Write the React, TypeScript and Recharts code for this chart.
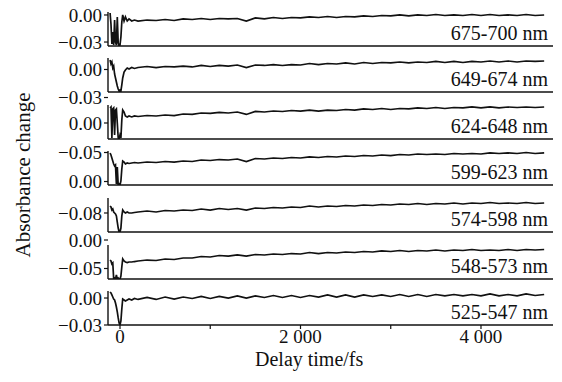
import React from 'react';
import { LineChart, Line, XAxis, YAxis } from 'recharts';

// delay times (fs), shared by all traces
const delayTimes = [
  -110, -100, -90, -80, -70, -60, -50, -40, -30, -20, -10, 0, 10, 20, 30, 45, 60, 80, 100, 130, 160,
  200, 300, 400, 500, 600, 700, 800, 900, 1000, 1100, 1200, 1300, 1400, 1500, 1600, 1700, 1800,
  1900, 2000, 2100, 2200, 2300, 2400, 2500, 2600, 2700, 2800, 2900, 3000, 3100, 3200, 3300, 3400,
  3500, 3600, 3700, 3800, 3900, 4000, 4100, 4200, 4300, 4400, 4500, 4600, 4700,
];

const trace675 = [
  0.0022, -0.01, -0.0322, -0.0189, -0.0333, -0.0056, -0.03, -0.0333, -0.0022, -0.0311, -0.0344,
  -0.0333, -0.0244, -0.0078, 0.0, -0.0067, -0.0022, -0.0067, -0.0044, -0.0067, -0.0056,
  -0.0067, -0.0056, -0.0061, -0.005, -0.0061, -0.0044, -0.005, -0.0039, -0.005, -0.0039, -0.0044,
  -0.0039, -0.0067, -0.0033, -0.0044, -0.0028, -0.0039, -0.0028, -0.0033, -0.0022, -0.0028,
  -0.0017, -0.0028, -0.0017, -0.0022, -0.0011, -0.0017, -0.0006, -0.0011, 0.0, -0.0011, 0.0,
  -0.0006, 0.0005, -0.0006, 0.0, -0.0006, 0.0005, -0.0006, 0.0005, -0.0006, 0.0, -0.0006, 0.0005,
  -0.0006, 0.0,
];
const trace649 = [
  0.0102, 0.0059, 0.008, 0.0016, 0.0037, -0.0048, -0.0091, -0.0134, -0.0177, -0.0209, -0.023,
  -0.0219, -0.023, -0.0166, -0.0091, -0.0027, -0.0005, 0.0016, 0.0005, 0.0021, 0.0011,
  0.0021, 0.0032, 0.0021, 0.0032, 0.0027, 0.0037, 0.0027, 0.0043, 0.0032, 0.0043, 0.0037, 0.0048,
  0.0021, 0.0048, 0.0043, 0.0053, 0.0043, 0.0053, 0.0048, 0.0064, 0.0053, 0.0064, 0.0059, 0.007,
  0.0059, 0.0075, 0.0064, 0.0075, 0.007, 0.008, 0.007, 0.008, 0.0075, 0.0086, 0.0075, 0.0086,
  0.0075, 0.0086, 0.008, 0.0091, 0.008, 0.0091, 0.008, 0.0091, 0.0086, 0.0091,
];
const trace624 = [
  0.0167, 0.0178, -0.0166, 0.0156, 0.0167, -0.0133, 0.0144, 0.0156, 0.0, -0.0166, -0.0177,
  -0.0133, -0.0166, 0.0033, 0.0144, 0.0122, 0.0078, 0.0067, 0.0078, 0.0067, 0.0078,
  0.0072, 0.0083, 0.0078, 0.0089, 0.0083, 0.01, 0.0095, 0.0111, 0.0106, 0.0117, 0.0111, 0.0122,
  0.0095, 0.0128, 0.0122, 0.0133, 0.0128, 0.0139, 0.0133, 0.0144, 0.0133, 0.0144, 0.0139, 0.015,
  0.0144, 0.0156, 0.015, 0.0161, 0.015, 0.0161, 0.0156, 0.0167, 0.0161, 0.0172, 0.0161, 0.0172,
  0.0167, 0.0178, 0.0167, 0.0178, 0.0167, 0.0178, 0.0172, 0.0178, 0.0172, 0.0178,
];
const trace599 = [
  -0.0492, -0.0457, -0.0405, -0.0354, -0.0302, -0.0267, -0.0285, 0.0043, -0.025, 0.006, 0.0043,
  0.006, -0.0009, -0.0216, -0.0354, -0.0336, -0.0302, -0.0319, -0.0311, -0.0319, -0.0328,
  -0.0319, -0.0336, -0.0328, -0.0345, -0.0336, -0.0354, -0.0345, -0.0371, -0.0362, -0.0379,
  -0.0371, -0.0388, -0.0345, -0.0397, -0.0388, -0.0405, -0.0397, -0.0414, -0.0405, -0.0423,
  -0.0414, -0.0431, -0.0423, -0.044, -0.0431, -0.0448, -0.044, -0.0457, -0.0448, -0.0466,
  -0.0457, -0.0474, -0.0466, -0.0474, -0.0466, -0.0483, -0.0474, -0.0483, -0.0474, -0.0492,
  -0.0483, -0.0492, -0.0483, -0.05, -0.0483, -0.0492,
];
const trace574 = [
  -0.1007, -0.0977, -0.0888, -0.0918, -0.0829, -0.08, -0.077, -0.0711, -0.0533, -0.0355, -0.0237,
  -0.0237, -0.0355, -0.0711, -0.0888, -0.0829, -0.08, -0.0829, -0.08, -0.08, -0.0814,
  -0.0829, -0.0859, -0.0829, -0.0874, -0.0859, -0.0888, -0.0874, -0.0918, -0.0888, -0.0933,
  -0.0903, -0.0933, -0.0888, -0.0948, -0.0933, -0.0963, -0.0948, -0.0977, -0.0963, -0.1007,
  -0.0977, -0.1007, -0.0992, -0.1022, -0.1007, -0.1037, -0.1022, -0.1051, -0.1037, -0.1066,
  -0.1051, -0.1081, -0.1051, -0.1081, -0.1066, -0.1096, -0.1066, -0.1096, -0.1081, -0.1111,
  -0.1081, -0.1096, -0.1081, -0.1111, -0.1081, -0.1096,
];
const trace548 = [
  -0.0646, -0.0629, -0.0577, -0.0595, -0.0319, -0.0336, -0.0319, -0.0388, -0.0319, -0.0336,
  -0.0319, -0.0319, -0.0371, -0.0526, -0.0664, -0.0629, -0.0612, -0.0603, -0.0612, -0.0612, -0.062,
  -0.0629, -0.0646, -0.0638, -0.0664, -0.0655, -0.0681, -0.0681, -0.0707, -0.0698, -0.0724,
  -0.0715, -0.0733, -0.0715, -0.0741, -0.0733, -0.075, -0.0741, -0.0758, -0.075, -0.0776,
  -0.0758, -0.0776, -0.0767, -0.0784, -0.0776, -0.0793, -0.0784, -0.0802, -0.0793, -0.081,
  -0.0793, -0.081, -0.0802, -0.0819, -0.0802, -0.0819, -0.081, -0.0827, -0.081, -0.0819,
  -0.081, -0.0827, -0.081, -0.0827, -0.0819, -0.0827,
];
const trace525 = [
  0.0067, 0.0056, 0.0034, 0.0011, -0.0011, -0.0022, -0.0055, -0.01, -0.0155, -0.0222, -0.0277,
  -0.0299, -0.0255, -0.0122, -0.0011, -0.0022, -0.0033, -0.0022, -0.0011, -0.0022, -0.0005,
  -0.0016, 0.0006, -0.0016, 0.0011, -0.0011, 0.0011, -0.0005, 0.0017, -0.0005, 0.0017, 0.0,
  0.0023, 0.0, 0.0023, 0.0006, 0.0028, 0.0006, 0.0028, 0.0006, 0.0028, 0.0011, 0.0034, 0.0011,
  0.0034, 0.0011, 0.0034, 0.0017, 0.0034, 0.0017, 0.0039, 0.0017, 0.0039, 0.0017, 0.0039,
  0.0023, 0.0039, 0.0023, 0.0039, 0.0023, 0.0045, 0.0023, 0.0039, 0.0023, 0.0045, 0.0028, 0.0039,
];

const bandLabels = ['675-700 nm', '649-674 nm', '624-648 nm', '599-623 nm', '574-598 nm', '548-573 nm', '525-547 nm'];
const bandTraces = [trace675, trace649, trace624, trace599, trace574, trace548, trace525];

// y ticks printed on each panel (as in the original figure)
const bandTicks = [[0, -0.03], [0, -0.03], [0], [-0.05, 0], [-0.08, 0], [-0.05], [0, -0.03]];

const xTicks = [0, 1000, 2000, 3000, 4000];
const xTickLabels = ['0', '', '2 000', '', '4 000'];

// axis settings per panel
const yDomains: [number, number][] = [
  [-0.0344, 0.0033],
  [-0.0241, 0.0123],
  [-0.0178, 0.02],
  [-0.0526, 0.006],
  [-0.1244, -0.0237],
  [-0.0905, -0.0319],
  [-0.03, 0.0078],
];
const yReversed = [false, false, false, true, true, true, false];

const PLOT_TOP = [12, 58, 105, 151, 198, 245, 291];
const PLOT_H = 34;
const M_TOP = 14;
const X_DOMAIN: [number, number] = [-133, 4798];
const FONT = '"Liberation Serif", "Times New Roman", serif';

const fmtY = (v: number) => (v === 0 ? '0.00' : '\u2212' + Math.abs(v).toFixed(2));
const fmtX = (v: number) => xTickLabels[xTicks.indexOf(v)] ?? '';

export default function App() {
  return (
    <div style={{ position: 'absolute', left: 0, top: 0, width: 562, height: 382, background: '#fff', fontFamily: FONT }}>
      {bandLabels.map((label, i) => {
        const last = i === bandLabels.length - 1;
        const xh = last ? 40 : 18;
        const data = delayTimes.map((t, k) => ({ t, v: bandTraces[i][k] }));
        return (
          <div key={label} style={{ position: 'absolute', left: 0, top: PLOT_TOP[i] - M_TOP }}>
            <LineChart width={562} height={M_TOP + PLOT_H + xh} data={data} margin={{ top: M_TOP, right: 9, bottom: 0, left: 48 }}>
              <XAxis
                type="number"
                dataKey="t"
                domain={X_DOMAIN}
                allowDataOverflow
                ticks={xTicks}
                interval={0}
                height={xh}
                tickSize={4}
                tickMargin={1}
                tickFormatter={fmtX}
                tick={last ? { fontFamily: FONT, fontSize: 19, fill: '#111' } : false}
                axisLine={{ stroke: '#111', strokeWidth: 1.4 }}
                tickLine={{ stroke: '#111', strokeWidth: 1.2 }}
              />
              <YAxis
                type="number"
                domain={yDomains[i]}
                allowDataOverflow
                reversed={yReversed[i]}
                ticks={bandTicks[i]}
                interval={0}
                width={60}
                tickSize={4}
                tickMargin={2}
                tickFormatter={fmtY}
                tick={{ fontFamily: FONT, fontSize: 19, fill: '#111' }}
                axisLine={{ stroke: '#111', strokeWidth: 1.4 }}
                tickLine={{ stroke: '#111', strokeWidth: 1.2 }}
              />
              <Line dataKey="v" type="linear" stroke="#111" strokeWidth={1.7} dot={false} isAnimationActive={false} />
            </LineChart>
          </div>
        );
      })}
      {bandLabels.map((label, i) => (
        <div
          key={'lab' + label}
          style={{ position: 'absolute', left: 0, width: 548, textAlign: 'right', top: PLOT_TOP[i] + PLOT_H - 23, fontSize: 20, lineHeight: '20px', color: '#111' }}
        >
          {label}
        </div>
      ))}
      <div style={{ position: 'absolute', left: 255, top: 349, fontSize: 20, lineHeight: '20px', color: '#111', whiteSpace: 'nowrap' }}>
        Delay time/fs
      </div>
      <div
        style={{ position: 'absolute', left: -87, top: 163, width: 220, height: 24, lineHeight: '24px', fontSize: 21, textAlign: 'center', color: '#111', transform: 'rotate(-90deg)' }}
      >
        Absorbance change
      </div>
    </div>
  );
}
